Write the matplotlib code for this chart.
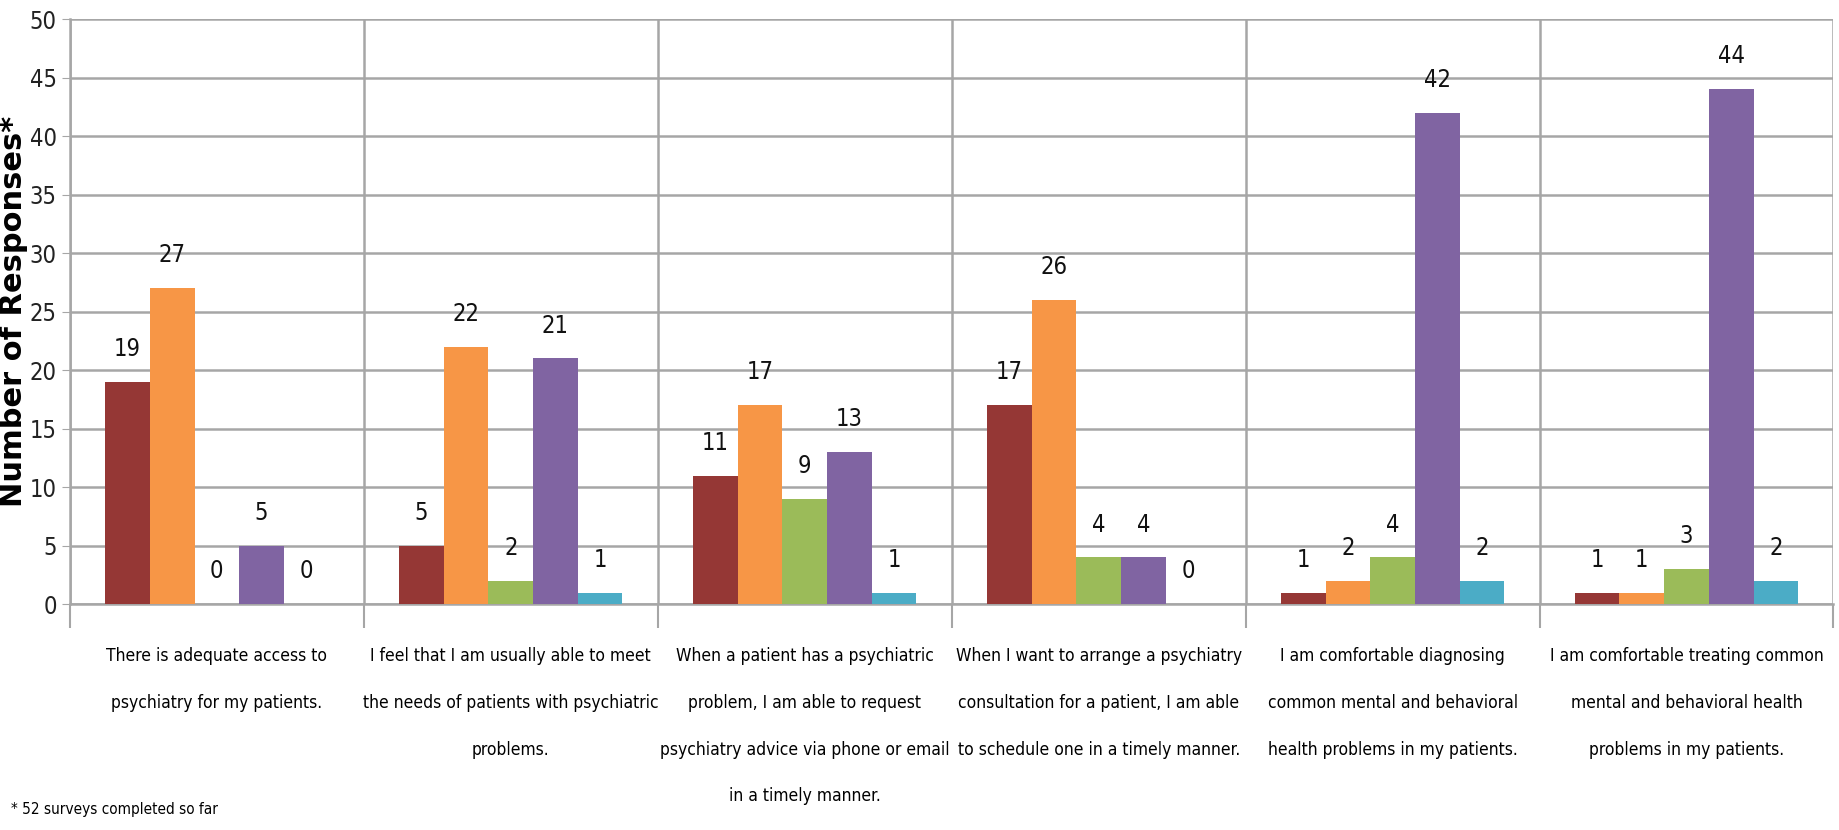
import numpy as np
import matplotlib
matplotlib.use("Agg")
import matplotlib.pyplot as plt
from matplotlib.ticker import FixedLocator

plt.rcParams['font.family'] = ['Liberation Sans Narrow', 'DejaVu Sans']
plt.rcParams['font.stretch'] = 'condensed'

categories = [
    "There is adequate access to\npsychiatry for my patients.",
    "I feel that I am usually able to meet\nthe needs of patients with psychiatric\nproblems.",
    "When a patient has a psychiatric\nproblem, I am able to request\npsychiatry advice via phone or email\nin a timely manner.",
    "When I want to arrange a psychiatry\nconsultation for a patient, I am able\nto schedule one in a timely manner.",
    "I am comfortable diagnosing\ncommon mental and behavioral\nhealth problems in my patients.",
    "I am comfortable treating common\nmental and behavioral health\nproblems in my patients.",
]

# one list per response option (legend not shown in the original)
series_1 = [19, 5, 11, 17, 1, 1]
series_2 = [27, 22, 17, 26, 2, 1]
series_3 = [0, 2, 9, 4, 4, 3]
series_4 = [5, 21, 13, 4, 42, 44]
series_5 = [0, 1, 1, 0, 2, 2]

colors = ["#953735", "#F79646", "#9BBB59", "#8064A2", "#4BACC6"]
grid_color = "#a6a6a6"

fig = plt.figure(figsize=(18.39, 8.30), dpi=100)
ax = fig.add_axes([0.038, 0.272, 0.959, 0.705])

x = np.arange(len(categories))
width = 0.152
all_series = [series_1, series_2, series_3, series_4, series_5]
for i, (vals, c) in enumerate(zip(all_series, colors)):
    pos = x + (i - 2) * width
    ax.bar(pos, vals, width=width, color=c, zorder=3)
    for xp, v in zip(pos, vals):
        ax.annotate(str(v), (xp, v), xytext=(0, 15), textcoords="offset points",
                    ha="center", va="bottom", fontsize=17, color="#111111")

ax.set_xlim(-0.5, len(categories) - 0.5)
ax.set_ylim(0, 50)
ax.set_yticks(np.arange(0, 51, 5))
ax.tick_params(axis="y", labelsize=17, length=6, color=grid_color, labelcolor="#222222")

# category separators as major ticks, labels on minor ticks at centers
ax.xaxis.set_major_locator(FixedLocator(np.arange(-0.5, len(categories), 1.0)))
ax.xaxis.set_minor_locator(FixedLocator(x))
ax.set_xticklabels([], minor=False)
ax.set_xticklabels(categories, minor=True, fontsize=12.5, linespacing=3.05, va="top")
ax.tick_params(axis="x", which="major", length=17, color=grid_color, width=1.5)
ax.tick_params(axis="x", which="minor", length=0, pad=31)

ax.grid(True, which="major", color=grid_color, linewidth=1.8, zorder=0)
ax.set_axisbelow(True)
for s in ["top", "right"]:
    ax.spines[s].set_visible(False)
for s in ["left", "bottom"]:
    ax.spines[s].set_color(grid_color)
    ax.spines[s].set_linewidth(1.8)

ax.set_ylabel("Number of Responses*", fontsize=22, fontweight="bold",
              family="DejaVu Sans", fontstretch="normal")
ax.yaxis.set_label_coords(-0.024, 0.5)

fig.text(0.006, 0.025, "* 52 surveys completed so far", fontsize=11, va="center")

fig.savefig("out.png", dpi=100)
